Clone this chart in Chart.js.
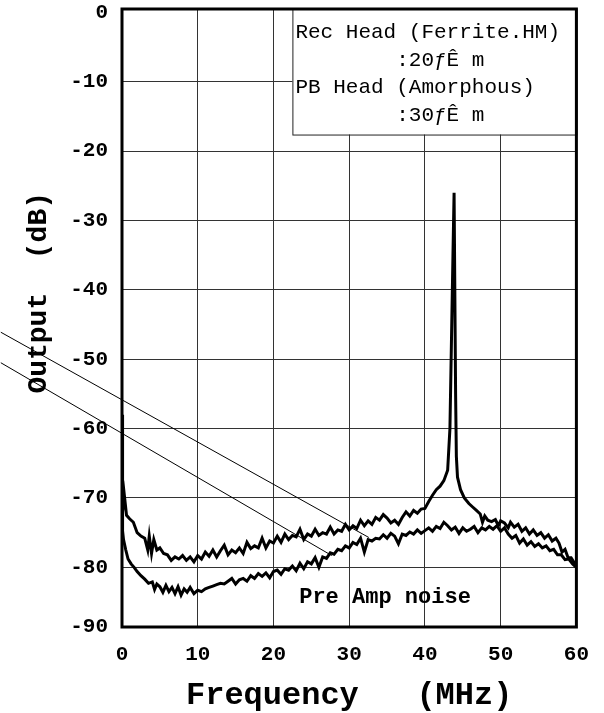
<!DOCTYPE html>
<html>
<head>
<meta charset="utf-8">
<script src="https://cdn.jsdelivr.net/npm/chart.js@4"></script>
<style>
  html, body { margin: 0; padding: 0; background: #fff; }
</style>
</head>
<body>
<canvas id="c" width="604" height="713"></canvas>
<script>
// Rec head (Ferrite) spectrum, with the 44 MHz carrier
const recFreq = [0, 0.05, 0.1, 0.3, 0.6, 1.0, 1.5, 2.0, 2.5, 3.0, 3.4, 3.6, 3.9, 4.2, 4.6, 5.0, 5.5, 6.0, 6.5, 7.0, 7.5, 8.0, 8.5, 9.0, 9.5, 10.0,
  10.5, 11.0, 11.5, 12.0, 12.5, 13.0, 13.5, 14.0, 14.5, 15.0, 15.5, 16.0, 16.5, 17.0, 17.5, 18.0, 18.5, 19.0, 19.5, 20.0,
  20.5, 21.0, 21.5, 22.0, 22.5, 23.0, 23.5, 24.0, 24.5, 25.0, 25.5, 26.0, 26.5, 27.0, 27.5, 28.0, 28.5, 29.0, 29.5, 30.0,
  30.5, 31.0, 31.5, 32.0, 32.5, 33.0, 33.5, 34.0, 34.5, 35.0, 35.5, 36.0, 36.5, 37.0, 37.5, 38.0, 38.5, 39.0, 39.5, 40.0,
  40.5, 41.0, 41.5, 42.0, 42.5, 43.0, 43.3, 43.7, 43.85, 44.05, 44.15, 44.3, 44.7, 45.2, 45.8, 46.3, 46.8, 47.3, 47.6, 47.9,
  48.3, 48.8, 49.3, 49.7, 50.0, 50.5, 51.0, 51.3, 51.8, 52.3, 52.8, 53.3, 53.8, 54.3, 54.8, 55.3, 55.8, 56.3, 56.8, 57.3,
  57.7, 58.1, 58.5, 58.9, 59.3, 59.7, 60.0];
const recDb = [-74.5, -58, -72, -69.5, -72.5, -73, -73.5, -75, -75.5, -75.8, -77.5, -75.5, -78, -76, -77.5, -77.2, -78, -78.2, -79, -78.5, -78.8, -78.3, -79, -78.5, -79.2, -78.3,
  -78.8, -77.8, -78.4, -77.5, -78.5, -77.6, -76.8, -78.2, -77.5, -77.9, -77.2, -78, -76.4, -77.3, -76.9, -77.2, -75.8, -77.2, -76.2, -76.5,
  -75.5, -76.4, -75.2, -76, -75.4, -75.6, -74.5, -76, -75.2, -75.5, -74.5, -75.4, -75, -75.2, -74.2, -75.2, -74.6, -74.8, -73.8, -74.6,
  -74, -74.4, -73.2, -74, -73.3, -73.8, -72.8, -73.2, -72.4, -72.9, -73.6, -73.2, -73.8, -72.8, -72, -72.6, -71.8, -72.2, -71.6, -71.5,
  -70.5, -69.6, -68.8, -68.3, -67.5, -66, -60, -35, -26, -55, -64, -67, -68.8, -70, -70.8, -71.3, -71.8, -72.3, -73.5, -72.6,
  -73.2, -73.4, -73.1, -74, -73.3, -73.6, -74.3, -73.5, -74.2, -73.8, -74.8, -74.3, -75.2, -74.6, -75.4, -75, -75.8, -75.3, -76.2, -75.8,
  -76.5, -77.8, -77.4, -78.6, -78.6, -79.3, -79.8];

// PB head (Amorphous) noise floor
const pbFreq = [0, 0.2, 0.5, 0.8, 1.2, 1.6, 2.0, 2.5, 3.0, 3.5, 4.0, 4.3, 4.6, 5.0, 5.4, 5.8, 6.2, 6.6, 7.0, 7.4, 7.8, 8.2, 8.6, 9.0, 9.5, 10.0,
  10.5, 11.0, 11.5, 12.0, 12.5, 13.0, 13.5, 14.0, 14.5, 15.0, 15.5, 16.0, 16.5, 17.0, 17.5, 18.0, 18.5, 19.0, 19.5, 20.0,
  20.5, 21.0, 21.5, 22.0, 22.5, 23.0, 23.5, 24.0, 24.5, 25.0, 25.5, 26.0, 26.5, 27.0, 27.5, 28.0, 28.5, 29.0, 29.5, 30.0,
  30.5, 31.0, 31.5, 32.0, 32.5, 33.0, 33.5, 34.0, 34.5, 35.0, 35.5, 36.0, 36.5, 37.0, 37.5, 38.0, 38.5, 39.0, 39.5, 40.0,
  40.5, 41.0, 41.5, 42.0, 42.5, 43.0, 43.5, 44.0, 44.5, 45.0, 45.5, 46.0, 46.5, 47.0, 47.5, 48.0, 48.5, 49.0, 49.5, 50.0,
  50.5, 51.0, 51.5, 52.0, 52.5, 53.0, 53.5, 54.0, 54.5, 55.0, 55.5, 56.0, 56.5, 57.0, 57.5, 58.0, 58.5, 59.0, 59.5, 60.0];
const pbDb = [-74, -76, -77.5, -78.8, -79.5, -80, -80.6, -81.2, -81.7, -82.3, -82.1, -83.2, -82.4, -82.8, -83.6, -82.6, -83.5, -82.9, -83.8, -82.8, -84, -83.1, -83.6, -82.9, -83.8, -83.3,
  -83.5, -83.1, -82.9, -82.7, -82.5, -82.3, -82.4, -82, -81.6, -82.4, -81.8, -81.6, -82, -81.2, -81.6, -80.9, -81.3, -80.8, -81.5, -80.6,
  -80.4, -81, -80.2, -80.4, -79.8, -80.5, -79.4, -80.2, -79.2, -79.5, -78.6, -80, -78.5, -78.7, -77.9, -78.1, -77.4, -77.6, -76.9, -77.2,
  -76.4, -76.7, -75.8, -77.8, -76, -76.2, -75.8, -75.9, -75.3, -75.8, -75.1, -75.5, -76.6, -75.2, -75.4, -74.9, -75.2, -74.6, -75.1, -74.7,
  -74.3, -74.8, -74.1, -74.4, -73.5, -74, -74.6, -74.2, -75.1, -74.3, -74.8, -74.5, -74.1, -75, -74.3, -74.6, -74.1, -74.5, -74, -74.8,
  -74.3, -75.2, -75.8, -75.4, -76.5, -75.9, -76.8, -76.3, -77, -76.6, -77.2, -76.9, -77.6, -77.4, -78.2, -78.2, -78.9, -78.8, -79.5, -80];

const xTicks = [0, 10, 20, 30, 40, 50, 60];
const yTicks = [0, -10, -20, -30, -40, -50, -60, -70, -80];
const yBottom = -88.6; // drawn as "-90" at the lower frame
const legendLines = ['Rec Head (Ferrite.HM)', '        :20\u0192\u00CA m', 'PB Head (Amorphous)', '        :30\u0192\u00CA m'];
const noiseLabel = 'Pre Amp noise';

const mono = '"Courier New", "Liberation Mono", monospace';

const toPoints = (xs, ys) => xs.map((x, i) => ({ x: x, y: ys[i] }));

const frame = {
  id: 'frame',
  beforeDatasetsDraw(chart) {
    const { ctx, scales: { x, y }, chartArea } = chart;
    // legend box
    const bx = x.getPixelForValue(22.5), by = chartArea.top;
    const bw = chartArea.right - bx, bh = y.getPixelForValue(-17.6) - by;
    ctx.save();
    ctx.fillStyle = '#fff';
    ctx.fillRect(bx, by, bw, bh);
    ctx.strokeStyle = '#222';
    ctx.lineWidth = 1;
    ctx.strokeRect(bx + 0.5, by + 0.5, bw, bh);
    ctx.fillStyle = '#000';
    ctx.font = '21px ' + mono;
    ctx.textBaseline = 'middle';
    ctx.textAlign = 'left';
    const offs = [23, 51, 78, 106];
    legendLines.forEach((t, i) => ctx.fillText(t, bx + 3, by + offs[i]));
    // pre amp noise label
    ctx.font = 'bold 22px ' + mono;
    ctx.fillText(noiseLabel, x.getPixelForValue(23.4), y.getPixelForValue(-84.3));
    ctx.restore();
  },
  afterDraw(chart) {
    const { ctx, scales: { x, y }, chartArea } = chart;
    ctx.save();
    // leader lines
    ctx.strokeStyle = '#000';
    ctx.lineWidth = 1;
    [[-16, -46.1, 32.6, -75.7], [-16, -50.5, 27.7, -78.3]].forEach(l => {
      ctx.beginPath();
      ctx.moveTo(x.getPixelForValue(l[0]), y.getPixelForValue(l[1]));
      ctx.lineTo(x.getPixelForValue(l[2]), y.getPixelForValue(l[3]));
      ctx.stroke();
    });
    // heavy frame
    ctx.lineWidth = 3;
    ctx.strokeRect(chartArea.left, chartArea.top, chartArea.right - chartArea.left, chartArea.bottom - chartArea.top);
    ctx.restore();
  }
};

new Chart(document.getElementById('c').getContext('2d'), {
  type: 'scatter',
  data: {
    datasets: [
      { label: 'Rec', data: toPoints(recFreq, recDb), showLine: true, borderColor: '#000', borderWidth: 3, pointRadius: 0, tension: 0 },
      { label: 'PB', data: toPoints(pbFreq, pbDb), showLine: true, borderColor: '#000', borderWidth: 3, pointRadius: 0, tension: 0 }
    ]
  },
  options: {
    responsive: false,
    animation: false,
    layout: { padding: { top: 9, right: 25, left: 0, bottom: 0 } },
    plugins: { legend: { display: false }, tooltip: { enabled: false } },
    scales: {
      x: {
        type: 'linear',
        min: 0,
        max: 60,
        afterFit: s => { s.height = 86; },
        afterBuildTicks: s => { s.ticks = xTicks.map(v => ({ value: v })); },
        grid: { color: c => (c.tick && (c.tick.value === 0 || c.tick.value === 60)) ? 'rgba(0,0,0,0)' : '#333', lineWidth: 1, drawTicks: false },
        border: { display: false },
        ticks: { color: '#000', padding: 15, maxRotation: 0, font: { family: mono, size: 21, weight: 'bold' } },
        title: { display: true, text: 'Frequency   (MHz)', color: '#000', padding: { top: 0, bottom: 1 }, font: { family: mono, size: 32, weight: 'bold', lineHeight: 1 } }
      },
      y: {
        type: 'linear',
        min: yBottom,
        max: 0.5,
        afterFit: s => { s.width = 122; s.paddingTop = 0; s.paddingBottom = 0; },
        afterBuildTicks: s => { s.ticks = yTicks.concat([yBottom]).map(v => ({ value: v })); },
        grid: { color: c => (c.tick && (c.tick.value === 0 || c.tick.value === yBottom)) ? 'rgba(0,0,0,0)' : '#333', lineWidth: 1, drawTicks: false },
        border: { display: false },
        ticks: {
          color: '#000', padding: 14,
          font: { family: mono, size: 21, weight: 'bold' },
          callback: v => (v === yBottom ? '-90' : String(v))
        },
        title: { display: true, text: '   Output  (dB)', color: '#000', padding: { top: 22, bottom: 0 }, font: { family: mono, size: 28, weight: 'bold', lineHeight: 1.2 } }
      }
    }
  },
  plugins: [frame]
});
</script>
</body>
</html>
